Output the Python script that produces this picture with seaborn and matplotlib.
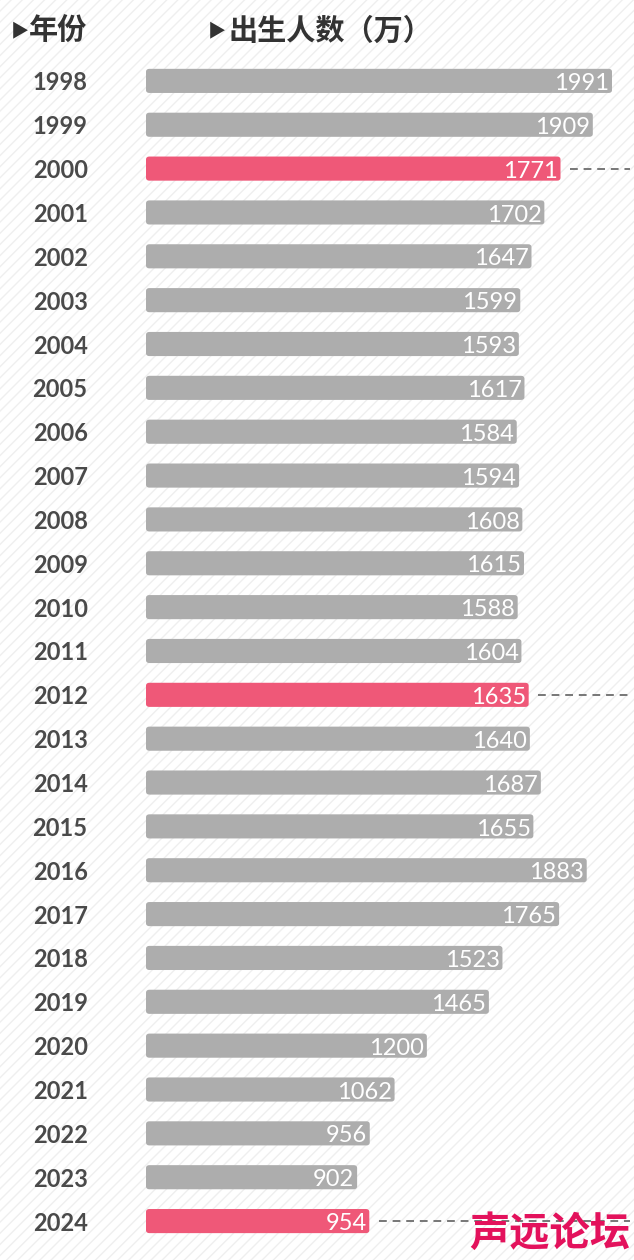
import numpy as np
import pandas as pd
import matplotlib
matplotlib.use('Agg')
import matplotlib.pyplot as plt
import seaborn as sns
from matplotlib.patches import FancyBboxPatch, Rectangle

# 数据
anos = [str(a) for a in range(1998, 2025)]
nascimentos = [1991, 1909, 1771, 1702, 1647, 1599, 1593, 1617, 1584, 1594,
               1608, 1615, 1588, 1604, 1635, 1640, 1687, 1655, 1883, 1765,
               1523, 1465, 1200, 1062, 956, 902, 954]
destaque = ['2000', '2012', '2024']

titulo_ano = '年份'
titulo_valor = '出生人数（万）'
marca = '声远论坛'

cinza = '#adadad'
rosa = '#ef5878'

dados = pd.DataFrame({'ano': anos, 'valor': nascimentos})
dados['grupo'] = np.where(dados['ano'].isin(destaque), 'sim', 'nao')

sns.set_style('white')
plt.rcParams['font.family'] = ['Lato', 'DejaVu Sans']

fig = plt.figure(figsize=(6.34, 12.6), dpi=100)
fig.patch.set_facecolor('white')

# fundo com hachuras diagonais
fundo = fig.add_axes([0, 0, 1, 1])
fundo.set_axis_off()
fundo.add_patch(Rectangle((0, 0), 1, 1, transform=fundo.transAxes,
                          facecolor='white', edgecolor='#efefef',
                          hatch='///', linewidth=0))

ax = fig.add_axes([146 / 634, 0.0135, 488 / 634, 0.9397])
ax.patch.set_alpha(0)
sns.barplot(data=dados, x='valor', y='ano', hue='grupo',
            palette={'sim': rosa, 'nao': cinza}, orient='h',
            width=0.55, dodge=False, legend=False, saturation=1, ax=ax)

# cantos arredondados
for p in list(ax.patches):
    x, y = p.get_x(), p.get_y()
    w, h = p.get_width(), p.get_height()
    cor = p.get_facecolor()
    p.remove()
    ax.add_patch(FancyBboxPatch((x, y), w, h,
                                boxstyle='round,pad=0,rounding_size=14',
                                mutation_aspect=0.0049,
                                facecolor=cor, edgecolor='none'))

ax.set_xlim(0, 2085)
ax.set_ylim(len(anos) - 0.5, -0.5)

for i, (a, v) in enumerate(zip(anos, nascimentos)):
    ax.text(v - 12, i + 0.06, str(v), ha='right', va='center',
            color='white', fontsize=17, fontweight='normal')
    if a in destaque:
        ax.plot([v + 40, 2070], [i, i], color='#777777', lw=1.4,
                linestyle=(0, (4, 3)))

ax.set_xlabel('')
ax.set_ylabel('')
ax.set_xticks([])
ax.tick_params(axis='y', length=0, pad=42)
for t in ax.get_yticklabels():
    t.set_fontsize(17)
    t.set_fontweight('bold')
    t.set_color('#4a4a4a')
sns.despine(ax=ax, left=True, bottom=True)

# cabeçalhos
cjk = ['Noto Sans CJK SC', 'DejaVu Sans']
fig.text(11 / 634, 1 - 31 / 1260, '▶', fontsize=13, color='#333333',
         va='center', ha='left', family=cjk)
fig.text(29 / 634, 1 - 31 / 1260, titulo_ano, fontsize=21, color='#333333',
         fontweight='bold', va='center', ha='left', family=cjk)
fig.text(208 / 634, 1 - 31 / 1260, '▶', fontsize=13, color='#333333',
         va='center', ha='left', family=cjk)
fig.text(229 / 634, 1 - 31 / 1260, titulo_valor, fontsize=21, color='#333333',
         fontweight='bold', va='center', ha='left', family=cjk)

# marca d'água
fig.text(630 / 634, 1 - 1234 / 1260, marca, fontsize=29, color='#e3125c',
         fontweight='bold', va='center', ha='right', family=cjk)

fig.savefig('out.png', dpi=100, facecolor='white')
